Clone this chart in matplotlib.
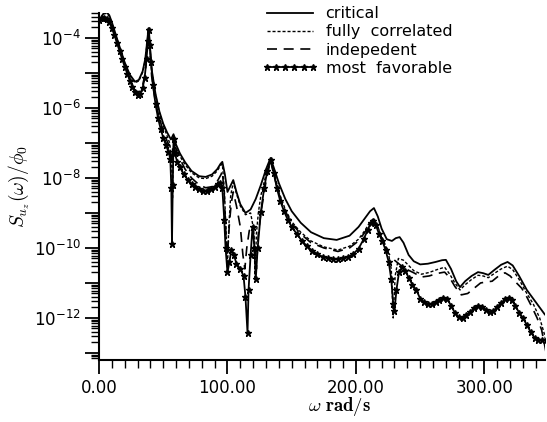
import numpy as np
import matplotlib
matplotlib.use("Agg")
import matplotlib.pyplot as plt
from matplotlib.ticker import FixedLocator, FuncFormatter, MultipleLocator

plt.rcParams['font.family'] = 'DejaVu Sans'
plt.rcParams['mathtext.fontset'] = 'cm'

# Data: frequency (rad/s) and log10 of S_uz(w)/phi0
w_crit = [0, 2, 4, 6, 8, 10, 13, 16, 20, 24, 28, 31, 34, 36, 37.5, 38.5, 39.5, 41, 44, 47,
          50, 53, 56, 58, 60, 63, 67, 72, 78, 83, 88, 92, 94.5, 96, 98, 100, 102, 104.5, 107, 110,
          114, 118, 122, 126, 130, 133.5, 136, 140, 145, 150, 157, 165, 175, 185, 195, 202, 207, 211,
          214, 217, 220, 224, 228, 231, 234, 237, 241, 245, 250, 256, 262, 267, 270, 274, 278, 281,
          285, 290, 295, 299, 303, 308, 313, 318, 322, 327, 333, 340, 347, 350]
s_crit = [-3.55, -3.38, -3.28, -3.27, -3.35, -3.55, -3.9, -4.25, -4.7, -5.05, -5.25, -5.2, -4.95,
          -4.6, -4.1, -3.72, -4.2, -4.9, -5.6, -6.1, -6.45, -6.7, -6.9, -6.75, -7.05, -7.3, -7.55,
          -7.8, -7.95, -7.97, -7.9, -7.75, -7.6, -7.54, -7.9, -8.4, -8.25, -8.06, -8.4, -8.75, -9.0,
          -8.9, -8.6, -8.2, -7.75, -7.43, -7.7, -8.15, -8.6, -8.95, -9.28, -9.55, -9.72, -9.77, -9.65,
          -9.4, -9.15, -8.95, -8.86, -9.1, -9.45, -9.75, -9.8, -9.72, -9.69, -9.85, -10.2, -10.38,
          -10.47, -10.45, -10.4, -10.35, -10.34, -10.6, -10.95, -11.12, -10.95, -10.8, -10.69, -10.72,
          -10.77, -10.62, -10.48, -10.4, -10.5, -10.8, -11.2, -11.55, -11.9, -12.0]

w_full = [0, 2, 4, 6, 8, 10, 13, 16, 20, 24, 28, 31, 34, 36, 37.5, 38.5, 39.5, 41, 44, 47, 50,
          53, 55, 56.5, 57.2, 57.8, 58.4, 60, 63, 67, 72, 78, 83, 88, 92, 94.5, 96, 97.5, 99, 100,
          101, 102.5, 104.5, 107, 110, 114, 118, 120.5, 121.5, 122.5, 124, 126, 130, 133.5, 136, 140,
          145, 150, 157, 165, 175, 186, 195, 202, 207, 211, 214, 217, 221, 225, 227.5, 229, 230.5,
          233, 237, 241, 245, 251, 257, 263, 269, 273, 277, 281, 285, 290, 295, 299, 303, 308, 313,
          318, 322, 327, 333, 338, 343, 347, 349]
s_full = [-3.58, -3.41, -3.31, -3.3, -3.38, -3.58, -3.93, -4.28, -4.73, -5.08, -5.28, -5.23, -4.98,
          -4.63, -4.13, -3.74, -4.23, -4.93, -5.63, -6.13, -6.5, -6.8, -7.0, -7.5, -8.6, -7.4, -6.8,
          -7.15, -7.38, -7.62, -7.85, -8.0, -8.02, -7.95, -7.8, -7.65, -7.6, -8.3, -9.6, -10.55,
          -9.4, -8.5, -8.12, -8.45, -8.8, -9.05, -9.0, -9.5, -10.85, -9.6, -9.0, -8.5, -7.9, -7.46,
          -7.8, -8.4, -8.9, -9.25, -9.55, -9.8, -9.97, -10.06, -9.95, -9.75, -9.5, -9.25, -9.15,
          -9.4, -9.75, -10.1, -10.6, -12.0, -10.8, -10.3, -10.35, -10.5, -10.65, -10.75, -10.7,
          -10.62, -10.55, -10.75, -11.0, -11.2, -11.05, -10.9, -10.78, -10.8, -10.85, -10.72, -10.6,
          -10.52, -10.62, -10.9, -11.3, -11.6, -12.0, -12.5, -13.0]

w_ind = [0, 2, 4, 6, 8, 10, 13, 16, 20, 24, 28, 31, 34, 36, 37.5, 38.5, 39.5, 41, 44, 47, 50, 53,
         55, 56.5, 57.5, 58.2, 60, 63, 67, 72, 78, 83, 88, 92, 95, 96, 97.5, 99, 100, 101.5, 103,
         104.5, 107, 110, 112, 113.5, 115, 117, 119.5, 121, 122.5, 124, 126, 130, 133.5, 136, 140,
         145, 150, 157, 165, 175, 186, 195, 202, 207, 211, 214, 217, 221, 225, 230, 235, 240, 245,
         251, 257, 263, 269, 273, 277, 282, 287, 292, 297, 301.5, 306, 311, 316, 320, 325, 329, 333,
         337, 341, 344.5, 347, 349]
s_ind = [-3.5, -3.45, -3.4, -3.42, -3.5, -3.68, -3.98, -4.33, -4.78, -5.2, -5.5, -5.55, -5.35, -5.0,
         -4.4, -3.74, -4.3, -5.1, -5.85, -6.3, -6.65, -6.95, -7.1, -7.6, -7.1, -6.8, -7.2, -7.45,
         -7.75, -8.0, -8.2, -8.28, -8.25, -8.1, -7.9, -7.8, -8.5, -9.8, -10.2, -9.3, -8.7, -8.4,
         -8.8, -9.4, -10.2, -10.6, -10.0, -9.5, -9.4, -9.9, -10.6, -9.6, -9.0, -8.1, -7.5, -7.9,
         -8.45, -8.95, -9.3, -9.6, -9.85, -10.0, -10.1, -10.0, -9.8, -9.55, -9.3, -9.2, -9.45, -9.85,
         -10.14, -10.35, -10.5, -10.62, -10.71, -10.83, -10.8, -10.73, -10.69, -10.85, -11.1, -11.34,
         -11.3, -11.15, -11.0, -10.97, -10.95, -10.8, -10.71, -10.8, -11.0, -11.15, -11.4, -11.69,
         -12.0, -12.34, -12.8, -13.2]

w_fav = [0, 2, 4, 6, 8, 10, 12, 14, 16, 18, 20, 22, 24, 26, 28, 30, 32, 34, 35.5, 37, 38, 38.8,
         39.6, 40.5, 42, 44, 46, 48, 50, 52, 54, 55.5, 56.3, 56.8, 57.4, 58, 59, 61, 63, 66, 69, 72,
         75, 78, 81, 84, 87, 90, 92.5, 94.5, 96, 97.5, 98.5, 100, 101.5, 103, 105, 107, 110, 112.5,
         114, 115.6, 116.4, 118, 119.5, 121, 122, 123.5, 126, 128.5, 131, 133.6, 136, 138.5, 141,
         144, 147, 150, 154, 158, 162, 166, 170, 174, 178, 182, 186, 190, 194, 198, 202, 206, 209,
         211.5, 213.5, 215.5, 218, 220.5, 223, 225.5, 227.5, 229, 230, 231.5, 233.5, 236, 238.5,
         241, 244, 247, 250, 253, 256, 259, 262, 265, 268, 271, 274, 277, 280, 283, 286, 289, 292,
         295, 298, 301, 304, 307, 310, 313, 316, 319, 321.5, 324, 327, 330, 333, 336, 339, 342, 345,
         348, 350]
s_fav = [-3.48, -3.44, -3.42, -3.45, -3.55, -3.72, -3.92, -4.15, -4.38, -4.6, -4.82, -5.02, -5.22,
         -5.4, -5.55, -5.63, -5.6, -5.42, -5.15, -4.6, -4.1, -3.76, -4.2, -4.7, -5.35, -5.9, -6.3,
         -6.6, -6.85, -7.05, -7.25, -7.45, -8.3, -9.9, -8.2, -6.9, -7.3, -7.55, -7.7, -7.9, -8.05,
         -8.17, -8.27, -8.33, -8.36, -8.36, -8.33, -8.27, -8.18, -8.14, -8.3, -9.2, -10.0, -10.7,
         -10.4, -10.06, -10.2, -10.45, -10.6, -10.8, -11.4, -12.43, -11.2, -10.2, -9.4, -10.0,
         -10.9, -10.0, -8.97, -8.3, -7.8, -7.49, -7.85, -8.3, -8.65, -8.95, -9.2, -9.4, -9.6, -9.8,
         -9.95, -10.08, -10.18, -10.25, -10.29, -10.31, -10.32, -10.3, -10.25, -10.17, -10.02, -9.75,
         -9.5, -9.28, -9.22, -9.35, -9.6, -9.8, -10.05, -10.4, -10.9, -11.6, -11.8, -11.2, -10.7,
         -10.55, -10.65, -10.85, -11.05, -11.2, -11.45, -11.55, -11.6, -11.6, -11.55, -11.48, -11.43,
         -11.45, -11.65, -11.85, -11.98, -12.0, -11.92, -11.82, -11.72, -11.65, -11.68, -11.76,
         -11.83, -11.8, -11.68, -11.57, -11.47, -11.42, -11.5, -11.65, -11.85, -12.0, -12.2, -12.4,
         -12.57, -12.62, -12.63, -12.63, -12.65]

labels = ['critical', 'fully  correlated', 'indepedent', 'most  favorable']

fig = plt.figure(figsize=(5.47, 4.22), dpi=100)
ax = fig.add_axes([0.181, 0.147, 0.815, 0.822])

ax.plot(w_crit, 10.0 ** np.array(s_crit), '-', color='black', lw=1.3, label=labels[0])
ax.plot(w_full, 10.0 ** np.array(s_full), color='black', lw=1.0, dashes=(2.2, 1.4), label=labels[1])
ax.plot(w_ind, 10.0 ** np.array(s_ind), color='black', lw=1.2, dashes=(6, 4), label=labels[2])
ax.plot(w_fav, 10.0 ** np.array(s_fav), '-', color='black', lw=1.3, marker='*',
        markersize=4.5, label=labels[3])

ax.set_yscale('log')
ax.set_xlim(0, 347)
ax.set_ylim(10 ** -13.2, 10 ** -3.29)

for s in ['top', 'right']:
    ax.spines[s].set_visible(False)
ax.spines['left'].set_linewidth(1.5)
ax.spines['bottom'].set_linewidth(1.5)

# y ticks: every decade long, labels on even decades, dense minor ticks
ax.yaxis.set_major_locator(FixedLocator([10.0 ** k for k in range(-13, -3)]))
ax.yaxis.set_major_formatter(FuncFormatter(
    lambda v, p: r'$\mathregular{10^{%d}}$' % round(np.log10(v))
    if round(np.log10(v)) % 2 == 0 else ''))
minor = [m * 10.0 ** k for k in range(-14, -3) for m in range(2, 10)]
ax.yaxis.set_minor_locator(FixedLocator(minor))

ax.xaxis.set_major_locator(MultipleLocator(100))
ax.xaxis.set_minor_locator(MultipleLocator(10))
ax.xaxis.set_major_formatter(FuncFormatter(lambda v, p: '%.2f' % v))

ax.tick_params(which='major', direction='out', length=10, width=1.3, labelsize=12, colors='black')
ax.tick_params(which='minor', direction='out', length=6, width=1.0)
ax.tick_params(axis='y', which='major', pad=3)

ax.set_xlabel(r'$\omega\ \mathbf{rad/s}$', fontsize=13.5)
ax.xaxis.set_label_coords(0.54, -0.1)
ax.set_ylabel(r'$S_{u_z}(\omega)/\phi_0$', fontsize=14)
ax.yaxis.set_label_coords(-0.15, 0.5)

ax.legend(loc='upper left', bbox_to_anchor=(0.365, 1.02), frameon=False, fontsize=11.5,
          handlelength=3.5, handletextpad=0.5, labelspacing=0.2, numpoints=6,
          borderaxespad=0, borderpad=0)

fig.savefig('out.png', dpi=100)
